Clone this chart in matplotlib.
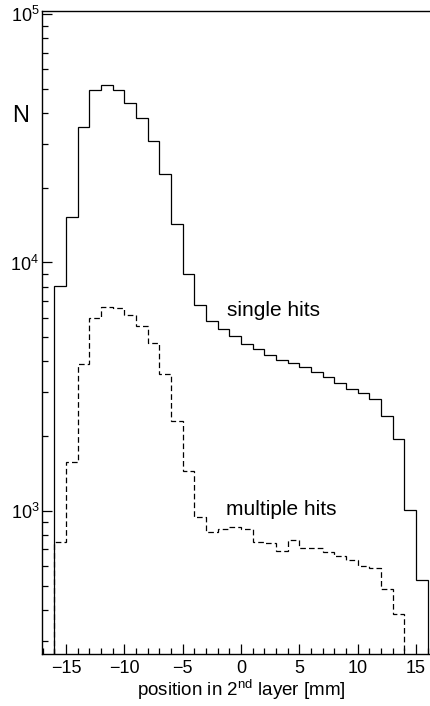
import numpy as np
import matplotlib
matplotlib.use("Agg")
import matplotlib.pyplot as plt
from matplotlib.ticker import LogLocator, MultipleLocator, NullFormatter

plt.rcParams["font.family"] = ["Liberation Sans", "DejaVu Sans"]
plt.rcParams["mathtext.fontset"] = "custom"
plt.rcParams["mathtext.rm"] = "Liberation Sans"
plt.rcParams["mathtext.it"] = "Liberation Sans:italic"
plt.rcParams["mathtext.default"] = "regular"

# Bin edges along the position axis [mm]
bin_edges = np.arange(-16, 17, 1)

# Counts per 1 mm bin, single hits (-16 .. 16)
single_hits = [8050, 15180, 34970, 49600, 51700, 49370, 43850, 38150,
               30830, 22760, 14280, 8950, 6735, 5823, 5393, 5069,
               4692, 4491, 4249, 4030, 3920, 3791, 3629, 3474,
               3286, 3099, 2979, 2818, 2398, 1945, 1006, 526]

# Counts per 1 mm bin, multiple hits (-16 .. 14)
multiple_hits = [752, 1571, 3897, 5988, 6590, 6529, 6117, 5545,
                 4718, 3540, 2310, 1453, 942, 819, 844, 860,
                 846, 752, 741, 690, 764, 711, 711, 682,
                 659, 635, 597, 588, 485, 385]

fig = plt.figure(figsize=(4.30, 7.06), dpi=100)
# the frame runs slightly past the right edge of the canvas
ax = fig.add_axes([42 / 430, 1 - 654 / 706, (440 - 42) / 430, (654 - 11) / 706])

ax.set_yscale("log")
ax.stairs(single_hits, bin_edges, baseline=1, color="black", lw=0.9)
ax.stairs(multiple_hits, bin_edges[:len(multiple_hits) + 1], baseline=1,
          color="black", lw=0.9, linestyle=(0, (4.5, 2.5)))

ax.set_xlim(-17.06, 17.06)
ax.set_ylim(265, 1.03e5)

ax.xaxis.set_major_locator(MultipleLocator(5))
ax.xaxis.set_minor_locator(MultipleLocator(1))
ax.yaxis.set_major_locator(LogLocator(base=10, numticks=10))
ax.yaxis.set_minor_locator(LogLocator(base=10, subs=np.arange(2, 10), numticks=20))
ax.yaxis.set_minor_formatter(NullFormatter())

ax.tick_params(which="both", direction="in", top=False, right=False,
               labelsize=13, colors="black")
ax.tick_params(which="major", length=7, width=0.9)
ax.tick_params(which="minor", length=4, width=0.9)
ax.tick_params(axis="y", pad=2)
ax.tick_params(axis="x", pad=4)

ax.spines["right"].set_visible(False)
for s in ("left", "bottom", "top"):
    ax.spines[s].set_linewidth(1.0)

ax.set_xlabel("position in 2$^{nd}$ layer [mm]", fontsize=13.5, labelpad=1)
fig.text(12 / 430, 1 - 116 / 706, "N", fontsize=17, ha="left", va="center")

ax.text(-1.19, 6100, "single hits", fontsize=15, ha="left", va="baseline")
ax.text(-1.30, 963, "multiple hits", fontsize=15, ha="left", va="baseline")

fig.savefig("out.png", dpi=100)
